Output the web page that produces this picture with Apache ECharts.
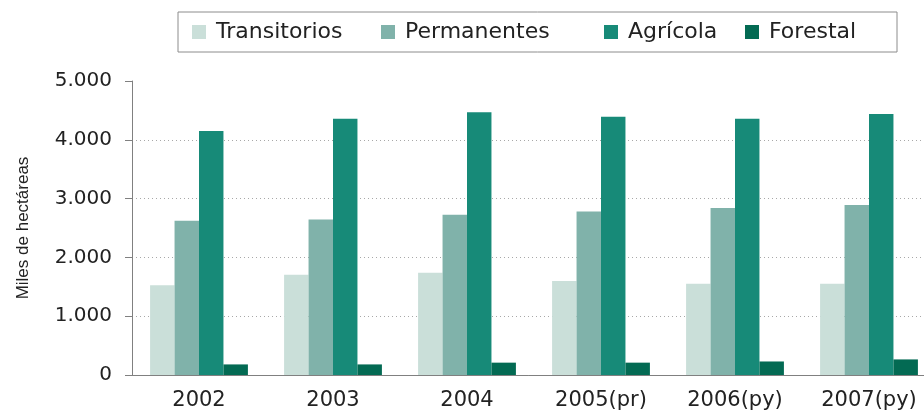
<!DOCTYPE html>
<html>
<head>
<meta charset="utf-8">
<script src="https://cdn.jsdelivr.net/npm/echarts@6/dist/echarts.min.js"></script>
<style>
  html, body { margin: 0; padding: 0; background: #fff; }
  #chart { width: 924px; height: 411px; }
</style>
</head>
<body>
<div id="chart"></div>
<script>
  // datos (miles de hectareas)
  const years = ['2002', '2003', '2004', '2005(pr)', '2006(py)', '2007(py)']
  const transitorios = [1525, 1705, 1740, 1600, 1550, 1550]
  const permanentes = [2625, 2645, 2725, 2780, 2840, 2890]
  const agricola = [4150, 4360, 4470, 4390, 4360, 4440]
  const forestal = [180, 180, 210, 210, 230, 265]
  const yTicks = [0, 1000, 2000, 3000, 4000, 5000]

  const colors = ['#cadfd9', '#80b2aa', '#178a78', '#036a53']
  const legendKeys = { 'Transitorios': 't', 'Permanentes': 'p', 'Agrícola': 'a', 'Forestal': 'f' }

  function miles(v) {
    return String(v).replace(/\B(?=(\d{3})+(?!\d))/g, '.')
  }

  const chart = echarts.init(document.getElementById('chart'))
  chart.setOption({
    animation: false,
    color: colors,
    textStyle: { fontFamily: 'DejaVu Sans' },
    legend: {
      left: 178,
      top: 12,
      padding: [9, 12, 9, 14],
      itemGap: 20,
      itemWidth: 14,
      itemHeight: 14,
      icon: 'rect',
      borderColor: '#8c8c8c',
      borderWidth: 1,
      formatter: name => '{' + legendKeys[name] + '|' + name + '}',
      textStyle: {
        color: '#222',
        fontSize: 22,
        fontFamily: 'DejaVu Sans',
        rich: {
          t: { width: 145, padding: [0, 0, 0, 5], fontSize: 22, lineHeight: 18, color: '#222' },
          p: { width: 179, padding: [0, 0, 0, 5], fontSize: 22, lineHeight: 18, color: '#222' },
          a: { width: 97, padding: [0, 0, 0, 5], fontSize: 22, lineHeight: 18, color: '#222' },
          f: { width: 116, padding: [0, 0, 0, 5], fontSize: 22, lineHeight: 18, color: '#222' }
        }
      },
      data: ['Transitorios', 'Permanentes', 'Agrícola', 'Forestal']
    },
    grid: {
      left: 132,
      right: -12,
      top: 81,
      bottom: 36,
      outerBoundsMode: 'none'
    },
    xAxis: {
      type: 'category',
      data: years,
      axisLine: { lineStyle: { color: '#808080', width: 1 } },
      axisTick: { length: 6, lineStyle: { color: '#808080' } },
      axisLabel: { color: '#222', fontSize: 21, margin: 15, fontFamily: 'DejaVu Sans' }
    },
    yAxis: {
      type: 'value',
      min: yTicks[0],
      max: yTicks[yTicks.length - 1],
      interval: 1000,
      name: 'Miles de hectáreas',
      nameLocation: 'middle',
      nameRotate: 90,
      nameGap: 100,
      nameTextStyle: { color: '#222', fontSize: 17, fontFamily: 'Liberation Sans' },
      axisLine: { show: true, lineStyle: { color: '#808080', width: 1 } },
      axisTick: { show: true, length: 7, lineStyle: { color: '#808080' } },
      axisLabel: { color: '#222', fontSize: 20, margin: 20, formatter: miles, fontFamily: 'DejaVu Sans' },
      splitLine: { show: true, showMaxLine: false, lineStyle: { color: '#a8a8a8', type: [1, 3], width: 1 } }
    },
    series: [
      { name: 'Transitorios', type: 'bar', data: transitorios, barGap: '0%', barCategoryGap: '27%' },
      { name: 'Permanentes', type: 'bar', data: permanentes, barGap: '0%', barCategoryGap: '27%' },
      { name: 'Agrícola', type: 'bar', data: agricola, barGap: '0%', barCategoryGap: '27%' },
      { name: 'Forestal', type: 'bar', data: forestal, barGap: '0%', barCategoryGap: '27%' }
    ]
  })
</script>
</body>
</html>
